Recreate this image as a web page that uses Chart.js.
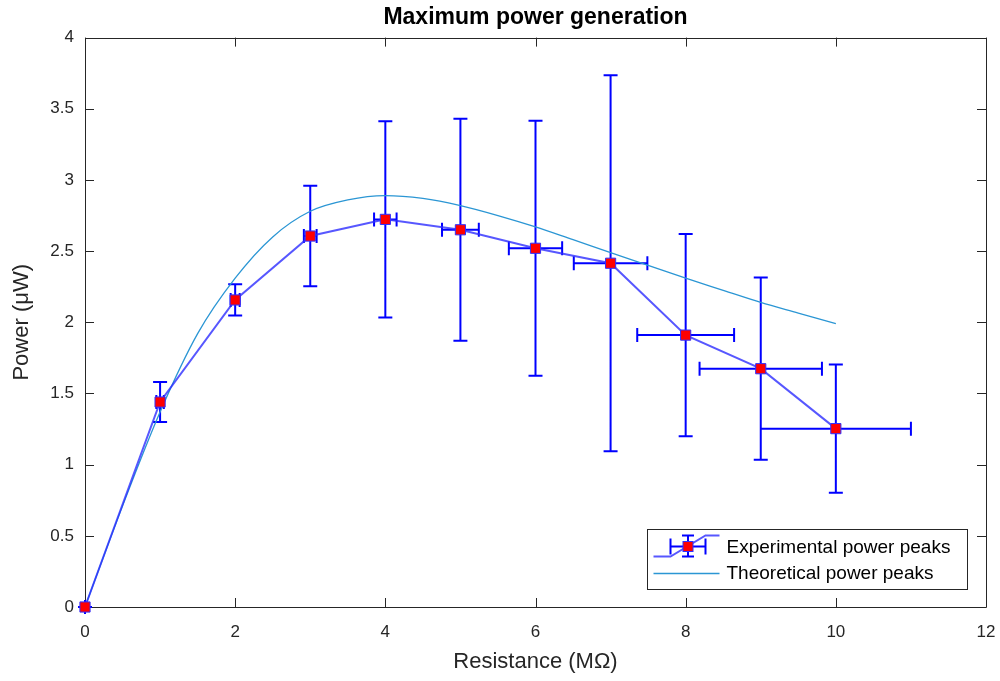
<!DOCTYPE html>
<html>
<head>
<meta charset="utf-8">
<style>
  html, body { margin: 0; padding: 0; background: #fff; }
  #wrap { width: 1000px; height: 681px; position: relative; }
</style>
<script src="https://cdn.jsdelivr.net/npm/chart.js@4.4.1/dist/chart.umd.min.js"></script>
</head>
<body>
<div id="wrap"><canvas id="c" width="1000" height="681"></canvas></div>
<script>
// ---- data ----
const resistance   = [0, 1, 2, 3, 4, 5, 6, 7, 8, 9, 10];
const expPower     = [0, 1.44, 2.157, 2.606, 2.723, 2.65, 2.52, 2.415, 1.91, 1.674, 1.253];
const expPowerErr  = [0, 0.14, 0.11, 0.353, 0.69, 0.78, 0.895, 1.32, 0.71, 0.64, 0.45];
const expResErr    = [0, 0.05, 0.06, 0.085, 0.15, 0.245, 0.355, 0.49, 0.645, 0.815, 1.0];
const theoryRes    = [0, 0.5, 1, 1.5, 2, 2.5, 3, 3.5, 4, 4.5, 5, 5.5, 6, 6.5, 7, 7.5, 8, 8.5, 9, 9.5, 10];
const theoryPower  = [0, 0.71, 1.37, 1.92, 2.31, 2.60, 2.78, 2.86, 2.89, 2.87, 2.82, 2.75, 2.67, 2.58, 2.49, 2.40, 2.31, 2.225, 2.14, 2.065, 1.99];
const xTickValues  = [0, 2, 4, 6, 8, 10, 12];
const yTickValues  = [0, 0.5, 1, 1.5, 2, 2.5, 3, 3.5, 4];
const xTickLabels  = ['0', '2', '4', '6', '8', '10', '12'];
const yTickLabels  = ['0', '0.5', '1', '1.5', '2', '2.5', '3', '3.5', '4'];
const legendLabels = ['Experimental power peaks', 'Theoretical power peaks'];

const FONT = '"Liberation Sans", Arial, Helvetica, sans-serif';
const AXIS_COLOR = '#262626';
const ERR_COLOR = '#0000ff';
const EXP_LINE = 'rgba(45,45,255,0.8)';
const THEORY_LINE = '#2b96d4';

const expData = resistance.map((r, i) => ({ x: r, y: expPower[i] }));
const theoryData = theoryRes.map((r, i) => ({ x: r, y: theoryPower[i] }));

// box + inward ticks + error bars (drawn before datasets)
const framePlugin = {
  id: 'frame',
  beforeDatasetsDraw(chart) {
    const { ctx, chartArea: a } = chart;
    const xs = chart.scales.x, ys = chart.scales.y;
    ctx.save();
    ctx.strokeStyle = AXIS_COLOR;
    ctx.lineWidth = 1;
    ctx.beginPath();
    ctx.rect(Math.round(a.left) + 0.5, Math.round(a.top) + 0.5,
             Math.round(a.right - a.left), Math.round(a.bottom - a.top));
    ctx.stroke();
    const TL = 9;
    ctx.beginPath();
    xTickValues.forEach(v => {
      const px = Math.round(xs.getPixelForValue(v)) + 0.5;
      ctx.moveTo(px, a.bottom); ctx.lineTo(px, a.bottom - TL);
      ctx.moveTo(px, a.top); ctx.lineTo(px, a.top + TL);
    });
    yTickValues.forEach(v => {
      const py = Math.round(ys.getPixelForValue(v)) + 0.5;
      ctx.moveTo(a.left, py); ctx.lineTo(a.left + TL, py);
      ctx.moveTo(a.right, py); ctx.lineTo(a.right - TL, py);
    });
    ctx.stroke();

    // error bars
    ctx.strokeStyle = ERR_COLOR;
    ctx.lineWidth = 2;
    const CAP = 7;
    ctx.beginPath();
    resistance.forEach((r, i) => {
      const cx = xs.getPixelForValue(r);
      const cy = ys.getPixelForValue(expPower[i]);
      const y1 = ys.getPixelForValue(expPower[i] + expPowerErr[i]);
      const y2 = ys.getPixelForValue(expPower[i] - expPowerErr[i]);
      const x1 = xs.getPixelForValue(r - expResErr[i]);
      const x2 = xs.getPixelForValue(r + expResErr[i]);
      ctx.moveTo(cx, y1); ctx.lineTo(cx, y2);
      ctx.moveTo(cx - CAP, y1); ctx.lineTo(cx + CAP, y1);
      ctx.moveTo(cx - CAP, y2); ctx.lineTo(cx + CAP, y2);
      ctx.moveTo(x1, cy); ctx.lineTo(x2, cy);
      ctx.moveTo(x1, cy - CAP); ctx.lineTo(x1, cy + CAP);
      ctx.moveTo(x2, cy - CAP); ctx.lineTo(x2, cy + CAP);
    });
    ctx.stroke();
    ctx.restore();
  }
};

// MATLAB-style legend box in the lower right
const legendPlugin = {
  id: 'mlegend',
  afterDraw(chart) {
    const { ctx, chartArea: a } = chart;
    const W = 320, H = 60;
    const L = Math.round(a.right - 19 - W) + 0.5;
    const T = Math.round(a.bottom - 18 - H) + 0.5;
    ctx.save();
    ctx.fillStyle = '#fff';
    ctx.fillRect(L, T, W, H);
    ctx.strokeStyle = AXIS_COLOR;
    ctx.lineWidth = 1;
    ctx.strokeRect(L, T, W, H);

    // experimental icon
    const iy = T + 17;
    ctx.strokeStyle = EXP_LINE;
    ctx.lineWidth = 2;
    ctx.beginPath();
    ctx.moveTo(L + 6, iy + 10); ctx.lineTo(L + 23, iy + 10);
    ctx.lineTo(L + 58, iy - 11); ctx.lineTo(L + 72, iy - 11);
    ctx.stroke();
    ctx.strokeStyle = ERR_COLOR;
    ctx.beginPath();
    const mx = L + 40.5;
    ctx.moveTo(mx, iy - 11); ctx.lineTo(mx, iy + 10);
    ctx.moveTo(mx - 6, iy - 11); ctx.lineTo(mx + 6, iy - 11);
    ctx.moveTo(mx - 6, iy + 10); ctx.lineTo(mx + 6, iy + 10);
    ctx.moveTo(L + 23, iy); ctx.lineTo(L + 58, iy);
    ctx.moveTo(L + 23, iy - 8); ctx.lineTo(L + 23, iy + 8);
    ctx.moveTo(L + 58, iy - 8); ctx.lineTo(L + 58, iy + 8);
    ctx.stroke();
    ctx.fillStyle = '#ff0000';
    ctx.fillRect(mx - 5, iy - 5, 10, 10);
    ctx.strokeStyle = '#3030ff';
    ctx.lineWidth = 1;
    ctx.strokeRect(mx - 5, iy - 5, 10, 10);

    // theoretical icon
    const ty = T + 44;
    ctx.strokeStyle = THEORY_LINE;
    ctx.lineWidth = 1.3;
    ctx.beginPath();
    ctx.moveTo(L + 6, ty); ctx.lineTo(L + 72, ty);
    ctx.stroke();

    ctx.fillStyle = '#000';
    ctx.font = '19px ' + FONT;
    ctx.textBaseline = 'middle';
    ctx.textAlign = 'left';
    ctx.fillText(legendLabels[0], L + 79, T + 18);
    ctx.fillText(legendLabels[1], L + 79, T + 44);
    ctx.restore();
  }
};

new Chart(document.getElementById('c'), {
  type: 'line',
  data: {
    datasets: [
      {
        label: legendLabels[0],
        data: expData,
        borderColor: EXP_LINE,
        borderWidth: 2,
        pointStyle: 'rect',
        pointRadius: 7.2,
        pointBackgroundColor: '#ff0000',
        pointBorderColor: '#3030ff',
        pointBorderWidth: 1,
        tension: 0,
        clip: false,
        order: 0
      },
      {
        label: legendLabels[1],
        data: theoryData,
        borderColor: THEORY_LINE,
        borderWidth: 1.3,
        pointRadius: 0,
        cubicInterpolationMode: 'monotone',
        clip: false,
        order: 1
      }
    ]
  },
  options: {
    responsive: false,
    animation: false,
    devicePixelRatio: 1,
    layout: { padding: { left: 0, right: 14, top: 0, bottom: 0 } },
    plugins: {
      legend: { display: false },
      tooltip: { enabled: false },
      title: {
        display: true,
        text: 'Maximum power generation',
        color: '#000',
        fullSize: false,
        font: { family: FONT, size: 23, weight: 'bold' },
        padding: { top: 4, bottom: 6 }
      }
    },
    scales: {
      x: {
        type: 'linear',
        min: 0, max: 12,
        afterFit(s) { s.height = 74; s.paddingLeft = 0; s.paddingRight = 0; },
        afterBuildTicks(s) { s.ticks = xTickValues.map(v => ({ value: v })); },
        grid: { display: false, drawTicks: false },
        border: { display: false },
        ticks: {
          color: AXIS_COLOR, padding: 15, maxRotation: 0,
          font: { family: FONT, size: 17 },
          callback: (v, i) => xTickLabels[i]
        },
        title: {
          display: true,
          text: 'Resistance (MΩ)',
          color: AXIS_COLOR,
          font: { family: FONT, size: 22 },
          padding: { top: 0, bottom: 6 }
        }
      },
      y: {
        type: 'linear',
        min: 0, max: 4,
        afterFit(s) { s.width = 85; s.paddingTop = 0; s.paddingBottom = 0; },
        afterBuildTicks(s) { s.ticks = yTickValues.map(v => ({ value: v })); },
        grid: { display: false, drawTicks: false },
        border: { display: false },
        ticks: {
          color: AXIS_COLOR, padding: 11,
          font: { family: FONT, size: 17 },
          callback: (v, i) => yTickLabels[i]
        },
        title: {
          display: true,
          text: 'Power (μW)',
          color: AXIS_COLOR,
          font: { family: FONT, size: 22 },
          padding: { top: 9, bottom: 0 }
        }
      }
    }
  },
  plugins: [framePlugin, legendPlugin]
});
</script>
</body>
</html>
